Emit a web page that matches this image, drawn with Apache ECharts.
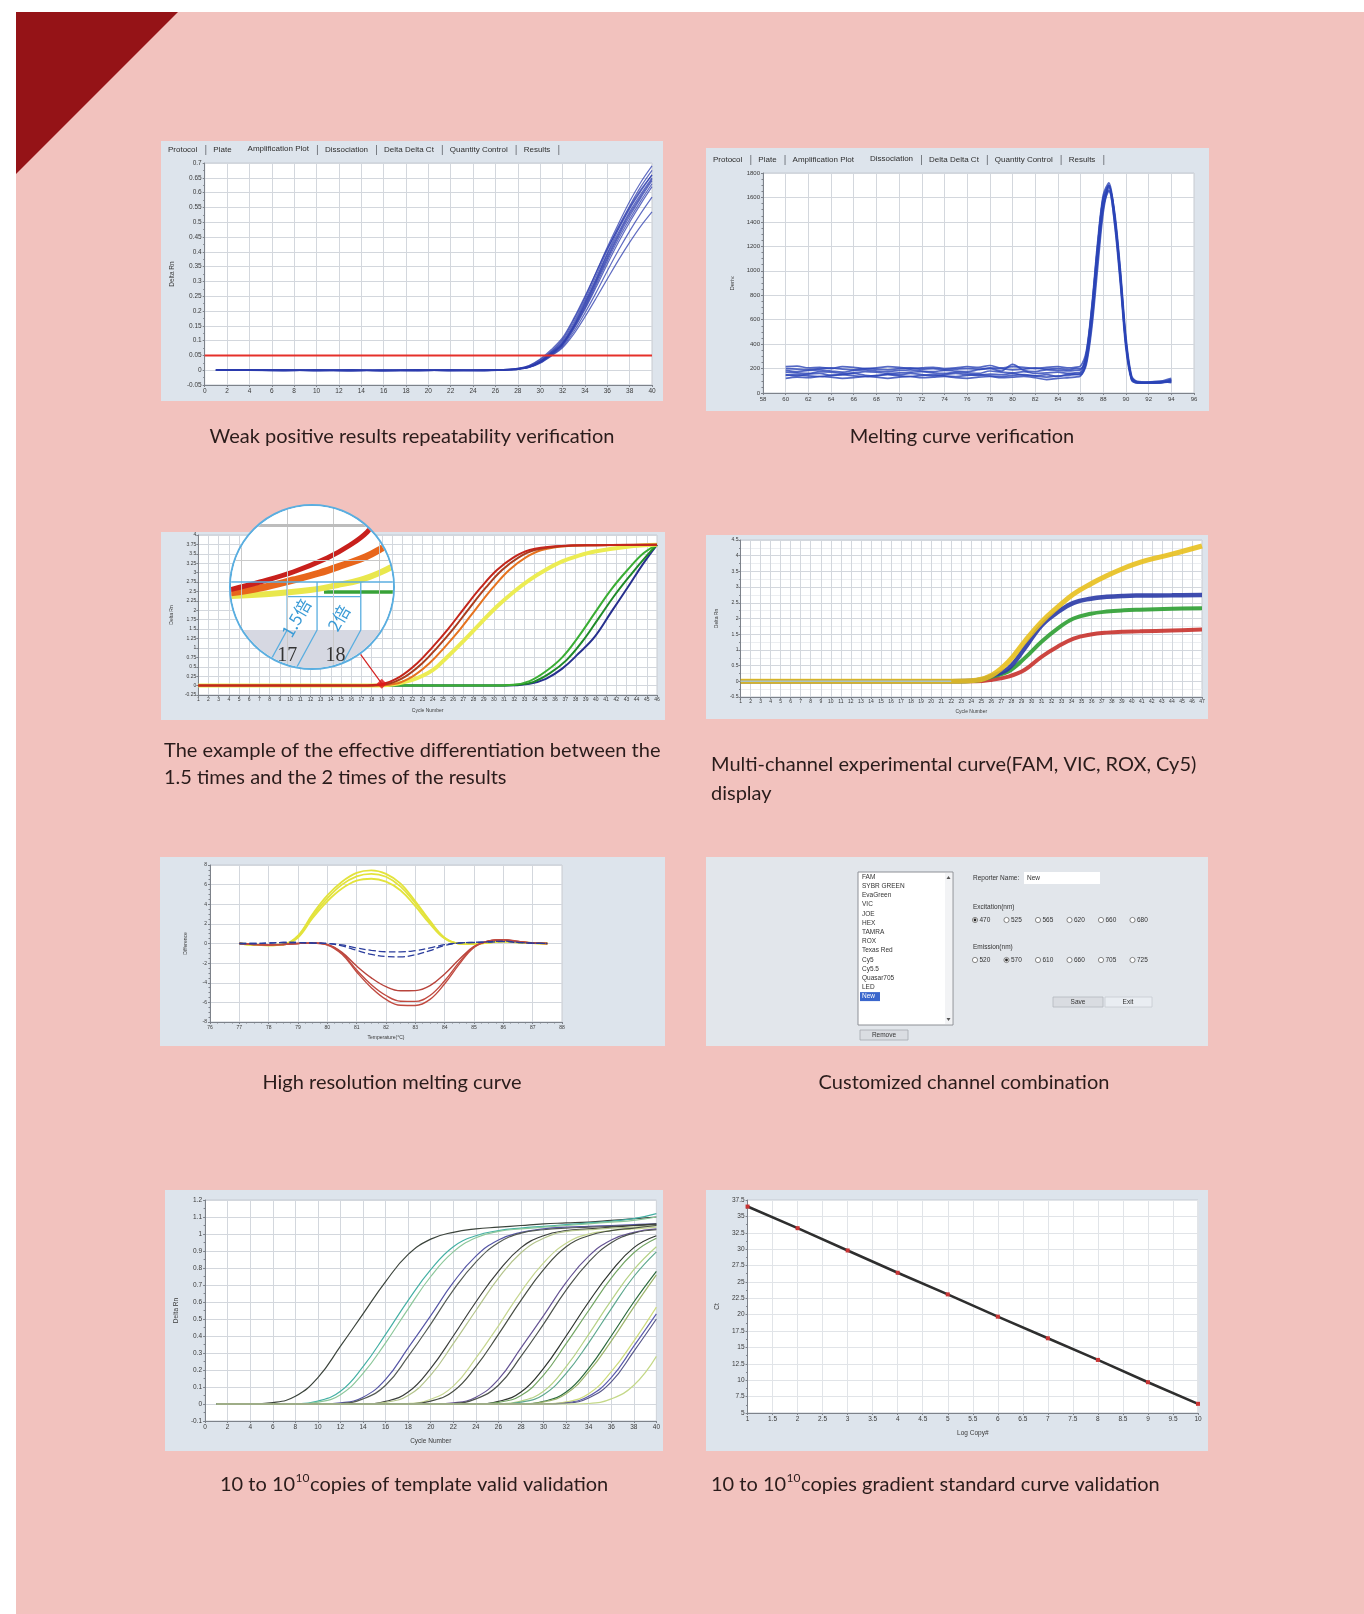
<!DOCTYPE html>
<html>
<head>
<meta charset="utf-8">
<title>qPCR analysis software – result gallery</title>
<script src="https://cdn.jsdelivr.net/npm/echarts@6.0.0/dist/echarts.min.js"></script>
<style>
  html, body { margin: 0; padding: 0; background: #ffffff; }
  #page { position: relative; width: 1364px; height: 1614px; overflow: hidden; }
  .box { position: absolute; }
  #magRing { position: absolute; border-radius: 50%; overflow: hidden; box-sizing: border-box; border: 2px solid #5aaee0; background: #ffffff; }
  #mag { width: 100%; height: 100%; }
</style>
</head>
<body>
<div id="page">
  <div id="bg" class="box" style="left:0;top:0;width:1364px;height:1614px"></div>
  <div id="p1" class="box" style="left:161px;top:141px;width:502px;height:260px"></div>
  <div id="p2" class="box" style="left:706px;top:148px;width:503px;height:263px"></div>
  <div id="p3" class="box" style="left:161px;top:532px;width:504px;height:188px"></div>
  <div id="p4" class="box" style="left:706px;top:535px;width:502px;height:184px"></div>
  <div id="p5" class="box" style="left:160px;top:857px;width:505px;height:189px"></div>
  <div id="p6" class="box" style="left:706px;top:857px;width:502px;height:189px"></div>
  <div id="p7" class="box" style="left:165px;top:1190px;width:498px;height:261px"></div>
  <div id="p8" class="box" style="left:706px;top:1190px;width:502px;height:261px"></div>
  <div id="magRing" style="left:229px;top:504px;width:166px;height:166px"><div id="mag"></div></div>
</div>
<script>
// ================= data =================

// software tab strip
const tabNames = ['Protocol', 'Plate', 'Amplification Plot', 'Dissociation', 'Delta Delta Ct', 'Quantity Control', 'Results'];

// captions
const capWeak = 'Weak positive results repeatability verification';
const capMelt = 'Melting curve verification';
const capDiff = ['The example of the effective differentiation between the', '1.5 times and the 2 times of the results'];
const capMulti = ['Multi-channel experimental curve(FAM, VIC, ROX, Cy5)', 'display'];
const capHrm = 'High resolution melting curve';
const capCustom = 'Customized channel combination';
const capTemplate = ['10 to 10', '10', 'copies of template valid validation'];
const capStandard = ['10 to 10', '10', 'copies gradient standard curve validation'];

// --- weak positive amplification (Delta Rn per cycle) ---
const ampCycles = [1, 4, 7, 10, 13, 16, 19, 22, 25, 27, 28, 29, 30, 31, 32, 33, 34, 35, 36, 37, 38, 39, 40];
const ampThreshold = 0.05;
const ampRun01 = [0.001, 0.002, -0.001, 0.001, -0.002, 0.001, 0, -0.001, 0.001, 0.003, 0.006, 0.015, 0.035, 0.065, 0.105, 0.17, 0.245, 0.33, 0.415, 0.495, 0.57, 0.635, 0.69];
const ampRun02 = [0, -0.001, 0.001, -0.002, 0.001, -0.001, 0.001, 0, -0.002, 0.002, 0.005, 0.013, 0.032, 0.062, 0.1, 0.162, 0.237, 0.32, 0.405, 0.485, 0.555, 0.62, 0.675];
const ampRun03 = [0.001, 0, -0.002, 0, 0.001, -0.002, -0.001, 0.001, 0, 0.002, 0.005, 0.012, 0.03, 0.06, 0.095, 0.155, 0.23, 0.31, 0.395, 0.475, 0.545, 0.605, 0.66];
const ampRun04 = [-0.001, 0.001, 0, -0.001, -0.002, 0, 0.001, -0.002, -0.001, 0.002, 0.004, 0.012, 0.03, 0.058, 0.092, 0.15, 0.225, 0.305, 0.39, 0.465, 0.535, 0.595, 0.65];
const ampRun05 = [0, 0.001, -0.001, 0.001, 0, -0.001, -0.002, 0, 0.001, 0.001, 0.004, 0.011, 0.028, 0.056, 0.09, 0.148, 0.22, 0.3, 0.382, 0.458, 0.528, 0.588, 0.645];
const ampRun06 = [0.001, -0.001, 0.001, -0.002, -0.001, 0.001, 0, -0.001, -0.002, 0.001, 0.004, 0.011, 0.028, 0.055, 0.088, 0.145, 0.215, 0.295, 0.376, 0.452, 0.52, 0.582, 0.64];
const ampRun07 = [-0.001, 0, 0.001, 0, -0.002, -0.001, 0.001, 0, -0.001, 0.002, 0.004, 0.01, 0.027, 0.054, 0.086, 0.142, 0.21, 0.288, 0.368, 0.443, 0.51, 0.572, 0.63];
const ampRun08 = [0, 0.001, 0, -0.001, 0.001, -0.002, -0.001, 0.001, 0, 0.001, 0.003, 0.01, 0.026, 0.052, 0.084, 0.138, 0.205, 0.28, 0.358, 0.432, 0.5, 0.562, 0.62];
const ampRun09 = [0.001, -0.001, -0.002, 0.001, 0, -0.001, 0.001, -0.002, 0, 0.001, 0.003, 0.009, 0.025, 0.05, 0.08, 0.13, 0.193, 0.262, 0.335, 0.405, 0.47, 0.53, 0.585];
const ampRun10 = [0, 0, 0.001, -0.001, -0.001, 0, -0.002, 0.001, -0.001, 0.001, 0.003, 0.009, 0.024, 0.048, 0.076, 0.122, 0.18, 0.243, 0.308, 0.372, 0.432, 0.487, 0.535];
const ampRun11 = [0.001, 0.001, -0.001, 0, 0, -0.002, 0, -0.001, 0.001, 0.003, 0.006, 0.016, 0.038, 0.07, 0.11, 0.175, 0.25, 0.33, 0.41, 0.48, 0.55, 0.61, 0.66];
const ampRuns = [ampRun01, ampRun02, ampRun03, ampRun04, ampRun05, ampRun06, ampRun07, ampRun08, ampRun09, ampRun10, ampRun11];

// --- melting curve (-dF/dT per temperature) ---
const meltTemps = [60, 61, 62, 63, 64, 65, 66, 67, 68, 69, 70, 71, 72, 73, 74, 75, 76, 77, 78, 79, 80, 81, 82, 83, 84, 85,
  85.5, 86, 86.5, 87, 87.5, 88, 88.5, 89, 89.5, 90, 90.5, 91, 92, 93, 94];
const meltRun1 = [215, 220, 205, 210, 200, 215, 210, 200, 205, 215, 210, 200, 205, 210, 200, 205, 215, 210, 225, 205, 215, 210, 200, 210, 215, 205, 210, 220, 340, 720, 1230, 1620, 1720, 1460, 980, 420, 120, 85, 80, 85, 100];
const meltRun2 = [185, 175, 185, 190, 180, 170, 185, 190, 180, 175, 185, 190, 180, 175, 185, 180, 175, 190, 200, 180, 235, 185, 175, 190, 185, 180, 185, 190, 290, 640, 1140, 1550, 1700, 1430, 950, 390, 110, 80, 85, 90, 95];
const meltRun3 = [150, 140, 155, 160, 145, 150, 160, 145, 140, 155, 150, 160, 150, 140, 150, 160, 150, 145, 155, 150, 160, 145, 140, 150, 135, 155, 155, 160, 250, 580, 1080, 1510, 1690, 1450, 990, 430, 130, 90, 85, 80, 110];
const meltRun4 = [120, 130, 125, 135, 130, 120, 125, 135, 130, 120, 130, 135, 125, 130, 135, 125, 120, 130, 135, 125, 130, 135, 125, 110, 120, 125, 130, 140, 230, 540, 1020, 1480, 1680, 1480, 1020, 460, 140, 95, 90, 95, 85];
const meltRun5 = [170, 165, 160, 175, 170, 160, 165, 175, 170, 160, 165, 170, 175, 165, 160, 170, 165, 160, 180, 170, 165, 175, 160, 165, 170, 160, 165, 170, 310, 690, 1190, 1590, 1660, 1380, 900, 360, 105, 85, 90, 95, 120];
const meltRun6 = [145, 150, 140, 135, 145, 150, 140, 135, 145, 150, 140, 135, 145, 150, 140, 135, 145, 150, 140, 135, 145, 150, 140, 130, 140, 145, 150, 150, 260, 610, 1110, 1530, 1650, 1400, 930, 400, 120, 90, 85, 85, 90];
const meltRun7 = [200, 195, 190, 200, 205, 195, 190, 200, 195, 190, 200, 205, 195, 200, 190, 195, 200, 195, 205, 200, 190, 195, 205, 195, 200, 190, 200, 200, 320, 700, 1200, 1600, 1700, 1440, 960, 410, 115, 88, 82, 92, 105];
const meltRuns = [meltRun1, meltRun2, meltRun3, meltRun4, meltRun5, meltRun6, meltRun7];

// --- 1.5x / 2x differentiation (cycle, Delta Rn) ---
const diffRed = [[1, 0], [17, 0], [19, 0.04], [20.8, 0.24], [22.5, 0.6], [24, 1.03], [25.5, 1.5], [27.1, 2.06], [28.7, 2.6], [30.3, 3.07], [31.9, 3.4], [33.5, 3.6], [36, 3.7], [40, 3.73], [46, 3.74]];
const diffBrown = [[1, 0], [17.5, 0], [19.5, 0.04], [21.3, 0.24], [23, 0.6], [24.5, 1.03], [26, 1.5], [27.6, 2.06], [29.2, 2.6], [30.8, 3.07], [32.4, 3.4], [34, 3.6], [36.5, 3.7], [40, 3.73], [46, 3.74]];
const diffOrange = [[1, 0], [18, 0], [20.2, 0.04], [22, 0.24], [23.7, 0.6], [25.2, 1.03], [26.7, 1.5], [28.3, 2.06], [29.9, 2.6], [31.5, 3.07], [33.1, 3.4], [34.7, 3.6], [37, 3.7], [41, 3.73], [46, 3.74]];
const diffYellow = [[1, 0], [18, 0], [20, 0.03], [22, 0.15], [24, 0.41], [25.5, 0.78], [27.1, 1.21], [28.7, 1.66], [30.3, 2.1], [31.9, 2.48], [33.5, 2.81], [35.1, 3.08], [36.7, 3.3], [38.3, 3.45], [39.9, 3.56], [43.1, 3.69], [46, 3.74]];
const diffGreen = [[1, 0], [30, 0], [31.9, 0.02], [33.5, 0.12], [35.1, 0.38], [36.7, 0.75], [38.3, 1.3], [39.9, 1.93], [41.5, 2.55], [43.1, 3.07], [44.7, 3.52], [46, 3.74]];
const diffGreen2 = [[1, 0], [30.5, 0], [32.3, 0.02], [33.9, 0.1], [35.5, 0.33], [37.1, 0.67], [38.7, 1.18], [40.3, 1.8], [41.9, 2.42], [43.5, 2.97], [45, 3.45], [46, 3.74]];
const diffBlue = [[1, 0], [31, 0], [33.5, 0.05], [35.1, 0.18], [36.7, 0.45], [38.3, 0.85], [39.9, 1.3], [41.5, 1.95], [43.1, 2.6], [44.7, 3.26], [46, 3.74]];
const diffCtPoint = [19, 0.05];
// magnified view around cycles 16–19
const magRed = [[15.74, 0], [16.41, 0.08], [17.13, 0.18], [17.87, 0.32], [18.37, 0.45], [18.74, 0.58], [19.02, 0.75], [19.24, 0.9]];
const magOrange = [[15.74, -0.03], [16.41, 0.02], [17.13, 0.1], [17.7, 0.17], [18.22, 0.25], [18.7, 0.33], [19.07, 0.42], [19.35, 0.5]];
const magYellow = [[15.74, -0.06], [16.6, -0.04], [17.5, 0], [18.1, 0.05], [18.59, 0.1], [19, 0.17], [19.35, 0.25]];
const magGreen = [[17.8, -0.02], [19.35, -0.02]];
const magThreshold = 0.08;
const magLabels = ['1.5倍', '2倍', '17', '18'];

// --- multi-channel (cycle, Delta Rn) ---
const mcCycles = [1, 8, 16, 22, 24.5, 26.1, 27.7, 29.3, 31, 32.6, 34.2, 35.9, 37.5, 39.2, 40.8, 44, 47];
const mcFAMyellow = [0, 0, 0, 0, 0.03, 0.2, 0.62, 1.26, 1.89, 2.36, 2.78, 3.1, 3.36, 3.6, 3.79, 4.05, 4.31];
const mcVICblue = [0, 0, 0, 0, 0.03, 0.18, 0.41, 1.04, 1.78, 2.2, 2.5, 2.63, 2.69, 2.72, 2.73, 2.74, 2.75];
const mcROXgreen = [0, 0, 0, 0, 0.02, 0.15, 0.31, 0.73, 1.26, 1.68, 2.0, 2.15, 2.22, 2.26, 2.28, 2.31, 2.33];
const mcCy5red = [0, 0, 0, 0, 0, 0.05, 0.15, 0.36, 0.78, 1.1, 1.36, 1.49, 1.55, 1.58, 1.59, 1.62, 1.65];
const mcEarly = [[1, 0], [8, 0], [16, 0], [22, 0]];

// --- high resolution melting difference plot ---
const hrmTemps = [77, 77.5, 78, 78.5, 79, 79.5, 80, 80.5, 81, 81.5, 82, 82.5, 83, 83.5, 84, 84.5, 85, 85.5, 86, 86.5, 87, 87.5];
const hrmYellow1 = [0, -0.15, -0.2, -0.1, 0.8, 3.0, 4.9, 6.3, 7.2, 7.45, 7.1, 6.1, 4.3, 2.3, 0.6, 0, -0.05, 0.1, 0.25, 0.15, 0.05, 0];
const hrmYellow2 = [0, -0.15, -0.2, -0.1, 0.7, 2.8, 4.6, 6.0, 6.85, 7.1, 6.8, 5.8, 4.1, 2.2, 0.55, 0, -0.05, 0.1, 0.22, 0.12, 0.04, 0];
const hrmYellow3 = [0, -0.1, -0.15, -0.1, 0.6, 2.6, 4.3, 5.6, 6.4, 6.6, 6.3, 5.4, 3.8, 2.0, 0.5, 0, -0.05, 0.08, 0.2, 0.1, 0.03, 0];
const hrmBlue1 = [0, 0, 0.05, 0.1, 0.1, 0.05, 0, -0.15, -0.45, -0.7, -0.84, -0.85, -0.72, -0.45, -0.12, 0.05, 0.1, 0.15, 0.2, 0.1, 0.03, 0];
const hrmBlue2 = [0, 0, 0.05, 0.1, 0.1, 0.05, 0, -0.25, -0.7, -1.1, -1.33, -1.36, -1.15, -0.72, -0.2, 0.05, 0.12, 0.18, 0.25, 0.12, 0.04, 0];
const hrmRed1 = [0, -0.1, -0.15, -0.1, 0, 0.05, -0.1, -0.9, -2.3, -3.5, -4.4, -4.82, -4.8, -4.3, -3.1, -1.6, -0.3, 0.25, 0.35, 0.2, 0.05, 0];
const hrmRed2 = [0, -0.1, -0.15, -0.1, 0, 0.05, -0.12, -1.0, -2.7, -4.2, -5.3, -5.88, -5.9, -5.3, -3.8, -1.9, -0.35, 0.25, 0.38, 0.2, 0.05, 0];
const hrmRed3 = [0, -0.1, -0.15, -0.1, 0, 0.05, -0.15, -1.1, -2.9, -4.5, -5.7, -6.3, -6.32, -5.7, -4.1, -2.1, -0.4, 0.25, 0.4, 0.22, 0.05, 0];

// --- customized channel dialog ---
const dyeList = ['FAM', 'SYBR GREEN', 'EvaGreen', 'VIC', 'JOE', 'HEX', 'TAMRA', 'ROX', 'Texas Red', 'Cy5', 'Cy5.5', 'Quasar705', 'LED', 'New'];
const excitationNm = ['470', '525', '565', '620', '660', '680'];
const emissionNm = ['520', '570', '610', '660', '705', '725'];

// --- 10 to 10^10 copies template dilution (Delta Rn per cycle) ---
const tplCycles = [1, 2, 4, 6, 8, 10, 12, 14, 16, 18, 20, 22, 24, 26, 28, 30, 32, 34, 36, 38, 40];
const tpl01 = [0, 0, 0, 0.008, 0.045, 0.155, 0.34, 0.53, 0.72, 0.88, 0.97, 1.01, 1.03, 1.04, 1.05, 1.06, 1.065, 1.07, 1.08, 1.09, 1.1];
const tpl02 = [0, 0, 0, 0, 0.001, 0.017, 0.075, 0.22, 0.41, 0.61, 0.79, 0.925, 0.99, 1.02, 1.035, 1.045, 1.055, 1.065, 1.075, 1.09, 1.12];
const tpl03 = [0, 0, 0, 0, 0, 0.011, 0.055, 0.18, 0.36, 0.56, 0.75, 0.895, 0.978, 1.015, 1.03, 1.04, 1.05, 1.06, 1.07, 1.08, 1.1];
const tpl04 = [0, 0, 0, 0, 0, 0, 0.007, 0.04, 0.145, 0.33, 0.52, 0.715, 0.87, 0.965, 1.01, 1.03, 1.04, 1.045, 1.05, 1.055, 1.06];
const tpl05 = [0, 0, 0, 0, 0, 0, 0.003, 0.03, 0.11, 0.28, 0.47, 0.67, 0.835, 0.948, 1.005, 1.025, 1.035, 1.04, 1.045, 1.05, 1.055];
const tpl06 = [0, 0, 0, 0, 0, 0, 0, 0, 0.015, 0.07, 0.21, 0.4, 0.6, 0.78, 0.92, 0.99, 1.02, 1.03, 1.04, 1.05, 1.06];
const tpl07 = [0, 0, 0, 0, 0, 0, 0, 0, 0.01, 0.05, 0.17, 0.355, 0.55, 0.74, 0.89, 0.975, 1.015, 1.025, 1.035, 1.04, 1.05];
const tpl08 = [0, 0, 0, 0, 0, 0, 0, 0, 0, 0.003, 0.028, 0.105, 0.27, 0.46, 0.66, 0.83, 0.945, 1.0, 1.02, 1.03, 1.04];
const tpl09 = [0, 0, 0, 0, 0, 0, 0, 0, 0, 0.001, 0.017, 0.075, 0.22, 0.41, 0.61, 0.79, 0.925, 0.99, 1.02, 1.035, 1.05];
const tpl10 = [0, 0, 0, 0, 0, 0, 0, 0, 0, 0, 0, 0.007, 0.04, 0.145, 0.33, 0.52, 0.715, 0.87, 0.965, 1.01, 1.03];
const tpl11 = [0, 0, 0, 0, 0, 0, 0, 0, 0, 0, 0, 0.003, 0.03, 0.11, 0.28, 0.47, 0.67, 0.835, 0.948, 1.005, 1.025];
const tpl12 = [0, 0, 0, 0, 0, 0, 0, 0, 0, 0, 0, 0, 0, 0.015, 0.07, 0.21, 0.4, 0.6, 0.78, 0.92, 0.99];
const tpl13 = [0, 0, 0, 0, 0, 0, 0, 0, 0, 0, 0, 0, 0, 0.01, 0.05, 0.17, 0.355, 0.55, 0.74, 0.89, 0.975];
const tpl14 = [0, 0, 0, 0, 0, 0, 0, 0, 0, 0, 0, 0, 0, 0.001, 0.017, 0.075, 0.22, 0.41, 0.61, 0.79, 0.925];
const tpl15 = [0, 0, 0, 0, 0, 0, 0, 0, 0, 0, 0, 0, 0, 0, 0.011, 0.055, 0.18, 0.36, 0.56, 0.75, 0.895];
const tpl16 = [0, 0, 0, 0, 0, 0, 0, 0, 0, 0, 0, 0, 0, 0, 0, 0.015, 0.07, 0.21, 0.4, 0.6, 0.78];
const tpl17 = [0, 0, 0, 0, 0, 0, 0, 0, 0, 0, 0, 0, 0, 0, 0, 0.012, 0.06, 0.19, 0.37, 0.57, 0.76];
const tpl18 = [0, 0, 0, 0, 0, 0, 0, 0, 0, 0, 0, 0, 0, 0, 0, 0, 0.008, 0.045, 0.155, 0.34, 0.53];
const tpl19 = [0, 0, 0, 0, 0, 0, 0, 0, 0, 0, 0, 0, 0, 0, 0, 0, 0.012, 0.06, 0.19, 0.37, 0.57];
const tpl20 = [0, 0, 0, 0, 0, 0, 0, 0, 0, 0, 0, 0, 0, 0, 0, 0, 0.005, 0.035, 0.13, 0.31, 0.5];
const tpl21 = [0, 0, 0, 0, 0, 0, 0, 0, 0, 0, 0, 0, 0, 0, 0, 0, 0, 0.003, 0.03, 0.11, 0.28];
const tplRuns = [tpl01, tpl02, tpl03, tpl04, tpl05, tpl06, tpl07, tpl08, tpl09, tpl10, tpl11, tpl12, tpl13, tpl14, tpl15, tpl16, tpl17, tpl18, tpl19, tpl20, tpl21];

// --- standard curve (log copies vs Ct) ---
const stdLogCopy = [1, 2, 3, 4, 5, 6, 7, 8, 9, 10];
const stdCt = [36.5, 33.2, 29.8, 26.4, 23.1, 19.7, 16.4, 13.1, 9.7, 6.4];

// ================= styling =================
const UI = '"Liberation Sans", Arial, sans-serif';
const CAP_FAMILY = '"Lato", "Open Sans", sans-serif';
const CAP_COLOR = '#2a1c1b';
const PAGE_PINK = '#f2c2be';
const CORNER_RED = '#951317';
const PANEL_BG = '#dde4ec';
const GRID_LINE = '#d3d7dd';
const tplColors = ['#3c443c', '#44b0a4', '#8cc79a', '#5656a6', '#555b55', '#3a3d3a', '#b4c48c', '#c6d690', '#484e44', '#665494', '#4c524c',
  '#2e342e', '#74a664', '#b6d286', '#5ea88e', '#2c6a3e', '#9cb46c', '#5c5cae', '#cedc7c', '#58588a', '#c4d888'];

const ctx2d = document.createElement('canvas').getContext('2d');
function measure(txt, font) { ctx2d.font = font; return ctx2d.measureText(txt).width; }
function pairs(xs, ys) { return ys.map((y, i) => [xs[i], y]); }
function plainNum(v) { return String(Math.round(v * 1000) / 1000); }

function ax(fs, o) {
  const base = {
    type: 'value',
    axisLine: { show: true, onZero: false, lineStyle: { color: '#7d828a', width: 1 } },
    axisTick: { show: true, length: 2, lineStyle: { color: '#7d828a' } },
    axisLabel: { fontSize: fs, color: '#3a3a3a', fontFamily: UI, margin: 3, formatter: plainNum },
    splitLine: { show: true, lineStyle: { color: GRID_LINE, width: 1 } },
    nameLocation: 'middle',
    nameTextStyle: { fontSize: fs, color: '#3a3a3a', fontFamily: UI }
  };
  const out = Object.assign({}, base, o);
  ['axisLabel', 'axisTick', 'splitLine', 'axisLine'].forEach(k => { if (o && o[k]) out[k] = Object.assign({}, base[k], o[k]); });
  return out;
}
function plotGrid(l, r, t, b) {
  return { left: l, right: r, top: t, bottom: b, show: true, backgroundColor: '#ffffff', borderColor: '#c4cad2', borderWidth: 1 };
}
function ln(data, color, width, opt) {
  opt = opt || {};
  return {
    type: 'line', data: data, symbol: 'none', silent: true,
    smooth: opt.smooth === undefined ? 0.4 : opt.smooth,
    lineStyle: { color: color, width: width, opacity: opt.opacity == null ? 1 : opt.opacity, type: opt.type || 'solid' },
    z: opt.z || 2
  };
}
function tabBar(names, x0, y, sel) {
  const els = [];
  const font = '8px ' + UI;
  let x = x0;
  names.forEach((n, i) => {
    els.push({ type: 'text', x: x, y: i === sel ? y - 1.5 : y, silent: true,
      style: { text: n, font: font, fill: '#2e2e2e', textVerticalAlign: 'middle' } });
    x += measure(n, font) + 8;
    if (i !== sel - 1) {
      els.push({ type: 'rect', silent: true, shape: { x: x, y: y - 5, width: 0.9, height: 10 }, style: { fill: '#6d7178' } });
    }
    x += 8;
  });
  return els;
}
function init(id) { return echarts.init(document.getElementById(id), null, { renderer: 'canvas' }); }

// ================= page background and captions =================
// caption size chosen so the first caption spans its column width
const CAP_SIZE = Math.round(18 * 404 / measure(capWeak, '18px ' + CAP_FAMILY) * 10) / 10;
const capFont = CAP_SIZE + 'px ' + CAP_FAMILY;
const supFont = Math.round(CAP_SIZE * 0.6) + 'px ' + CAP_FAMILY;
function cap(text, x, y, align) {
  return { type: 'text', x: x, y: y, silent: true,
    style: { text: text, font: capFont, fill: CAP_COLOR, textAlign: align || 'center', textVerticalAlign: 'middle' } };
}
function capWithPower(parts, x, y) {
  const w0 = measure(parts[0], capFont);
  const w1 = measure(parts[1], supFont);
  return [
    cap(parts[0], x, y, 'left'),
    { type: 'text', x: x + w0 + 0.5, y: y - 7, silent: true,
      style: { text: parts[1], font: supFont, fill: CAP_COLOR, textAlign: 'left', textVerticalAlign: 'middle' } },
    cap(parts[2], x + w0 + w1 + 1, y, 'left')
  ];
}
const bg = init('bg');
bg.setOption({
  animation: false,
  graphic: [
    { type: 'rect', silent: true, shape: { x: 0, y: 0, width: 1364, height: 1614 }, style: { fill: '#ffffff' } },
    { type: 'rect', silent: true, shape: { x: 16, y: 12, width: 1348, height: 1602 }, style: { fill: PAGE_PINK } },
    { type: 'polygon', silent: true, shape: { points: [[16, 12], [178, 12], [16, 174]] }, style: { fill: CORNER_RED } },
    cap(capWeak, 412, 437),
    cap(capMelt, 962, 437),
    cap(capDiff[0], 164, 751, 'left'),
    cap(capDiff[1], 164, 778, 'left'),
    cap(capMulti[0], 711, 765, 'left'),
    cap(capMulti[1], 711, 794, 'left'),
    cap(capHrm, 392, 1083),
    cap(capCustom, 964, 1083)
  ].concat(capWithPower(capTemplate, 220, 1485), capWithPower(capStandard, 711, 1485))
});

// ================= 1: weak positive amplification =================
const p1 = init('p1');
p1.setOption({
  animation: false,
  backgroundColor: PANEL_BG,
  grid: plotGrid(42, 11, 22, 16),
  xAxis: ax(6.5, { min: 0, max: 40, interval: 2 }),
  yAxis: ax(6.5, { min: -0.05, max: 0.7, interval: 0.05, name: 'Delta Rn', nameGap: 26,
    minorTick: { show: true, splitNumber: 2, length: 1.5 } }),
  series: ampRuns.map(r => ln(pairs(ampCycles, r), '#2c3cae', 1.2, { opacity: 0.75, smooth: 0.3 }))
    .concat([ln([[0, ampThreshold], [40, ampThreshold]], '#e5302a', 2, { smooth: false, z: 5 })]),
  graphic: tabBar(tabNames, 7, 9, 2)
});

// ================= 2: melting curve =================
const p2 = init('p2');
p2.setOption({
  animation: false,
  backgroundColor: PANEL_BG,
  grid: plotGrid(57, 15, 25, 18),
  xAxis: ax(6, { min: 58, max: 96, interval: 2 }),
  yAxis: ax(6, { min: 0, max: 1800, interval: 200, name: 'Deriv.', nameGap: 28,
    minorTick: { show: true, splitNumber: 4, length: 1.5 } }),
  series: meltRuns.map(r => ln(pairs(meltTemps, r), '#2b43b6', 1.7, { opacity: 0.8, smooth: 0.3 })),
  graphic: tabBar(tabNames, 7, 12, 3)
});

// ================= 3: 1.5x / 2x differentiation =================
const p3 = init('p3');
p3.setOption({
  animation: false,
  backgroundColor: PANEL_BG,
  grid: plotGrid(26, 8, 3, 25),
  xAxis: ax(5, { min: 1, max: 46, interval: 1, name: 'Cycle Number', nameGap: 13, axisLabel: { interval: 0, margin: 2 } }),
  yAxis: ax(5, { min: -0.25, max: 4, interval: 0.25, name: 'Delta Rn', nameGap: 15, axisLabel: { margin: 2 } }),
  series: [
    ln(diffBlue, '#27308e', 2),
    ln(diffGreen2, '#1f8a28', 2),
    ln(diffGreen, '#3aae34', 2),
    ln(diffYellow, '#ecec52', 4),
    ln(diffOrange, '#e6721e', 2),
    ln(diffBrown, '#aa3e1e', 2),
    ln(diffRed, '#c4261c', 2),
    { type: 'scatter', data: [diffCtPoint], symbol: 'diamond', symbolSize: 10, silent: true,
      itemStyle: { color: '#e41818' }, z: 6 }
  ]
});
// pointer from the magnifier to the Ct point
(function () {
  const magCx = 312, magCy = 587, magR = 83;           // magnifier circle, page coords
  const panelX = 161, panelY = 532;
  const pt = p3.convertToPixel({ gridIndex: 0 }, diffCtPoint);
  const dx = pt[0] + panelX - magCx, dy = pt[1] + panelY - magCy;
  const len = Math.sqrt(dx * dx + dy * dy);
  const ex = magCx + dx / len * magR - panelX, ey = magCy + dy / len * magR - panelY;
  p3.setOption({ graphic: [{ type: 'line', silent: true, z: 10,
    shape: { x1: ex, y1: ey, x2: pt[0], y2: pt[1] }, style: { stroke: '#d42020', lineWidth: 1.2 } }] });
})();

// magnified region
const mag = init('mag');
mag.setOption({
  animation: false,
  backgroundColor: '#ffffff',
  grid: { left: 0, right: 0, top: 0, bottom: 0 },
  xAxis: { type: 'value', min: 15.78, max: 19.3, show: false, splitLine: { show: false } },
  yAxis: { type: 'value', min: -0.78, max: 0.84, show: false, splitLine: { show: false } },
  series: [
    { type: 'line', data: [], silent: true, z: 0,
      markArea: { silent: true, itemStyle: { color: '#d6d8e2' }, data: [[{ yAxis: -0.78 }, { yAxis: -0.4 }]] },
      markLine: { silent: true, symbol: 'none', label: { show: false },
        lineStyle: { color: '#c9c9c9', width: 1, type: 'solid' },
        data: [{ xAxis: 16 }, { xAxis: 17 }, { xAxis: 18 }, { xAxis: 19 }, { yAxis: 0.3 },
          { yAxis: 0.65, lineStyle: { color: '#bdbdbd', width: 3, type: 'solid' } }] } },
    ln(magGreen, '#38a238', 3.5, { smooth: false }),
    ln(magYellow, '#e9e74c', 6),
    ln(magOrange, '#e8661c', 7),
    ln(magRed, '#c8201c', 5),
    { type: 'line', data: [], silent: true, z: 4,
      markLine: { silent: true, symbol: 'none', label: { show: false },
        lineStyle: { color: '#5aaee0', width: 1.5, type: 'solid' }, data: [{ yAxis: magThreshold }] } },
    ln([[17, magThreshold], [17, -0.067], [18.6, -0.067]], '#5aaee0', 1.3, { smooth: false, z: 4 }),
    ln([[17, -0.067], [17, -0.4], [16.55, -0.78]], '#5aaee0', 1.3, { smooth: false, z: 4 }),
    ln([[17.65, magThreshold], [17.65, -0.4], [17.2, -0.78]], '#5aaee0', 1.3, { smooth: false, z: 4 }),
    ln([[18.6, magThreshold], [18.6, -0.4], [18.15, -0.78]], '#5aaee0', 1.3, { smooth: false, z: 4 })
  ]
});
(function () {
  const a = mag.convertToPixel({ gridIndex: 0 }, [17.2, -0.28]);
  const b = mag.convertToPixel({ gridIndex: 0 }, [18.12, -0.28]);
  const c = mag.convertToPixel({ gridIndex: 0 }, [17.0, -0.66]);
  const d = mag.convertToPixel({ gridIndex: 0 }, [18.05, -0.66]);
  const cjk = '"Noto Sans CJK SC", sans-serif';
  mag.setOption({ graphic: [
    { type: 'text', x: a[0], y: a[1], rotation: Math.PI / 3, silent: true, z: 20,
      style: { text: magLabels[0], font: '17px ' + cjk, fill: '#3b9bd6', textAlign: 'center', textVerticalAlign: 'middle' } },
    { type: 'text', x: b[0], y: b[1], rotation: Math.PI / 3, silent: true, z: 20,
      style: { text: magLabels[1], font: '17px ' + cjk, fill: '#3b9bd6', textAlign: 'center', textVerticalAlign: 'middle' } },
    { type: 'text', x: c[0], y: c[1], silent: true, z: 20,
      style: { text: magLabels[2], font: '20px "Liberation Serif", serif', fill: '#333333', textAlign: 'center', textVerticalAlign: 'middle' } },
    { type: 'text', x: d[0], y: d[1], silent: true, z: 20,
      style: { text: magLabels[3], font: '20px "Liberation Serif", serif', fill: '#333333', textAlign: 'center', textVerticalAlign: 'middle' } }
  ] });
})();

// ================= 4: multi-channel =================
const p4 = init('p4');
p4.setOption({
  animation: false,
  backgroundColor: PANEL_BG,
  grid: plotGrid(26, 6, 5, 21),
  xAxis: ax(5, { min: 1, max: 47, interval: 1, name: 'Cycle Number', nameGap: 12, axisLabel: { interval: 0, margin: 2 } }),
  yAxis: ax(5, { min: -0.5, max: 4.5, interval: 0.5, name: 'Delta Rn', nameGap: 15, axisLabel: { margin: 2 },
    minorTick: { show: true, splitNumber: 2, length: 1.5 },
    minorSplitLine: { show: true, lineStyle: { color: '#eceef1' } } }),
  series: [
    ln(pairs(mcCycles, mcCy5red), '#c8322c', 4, { opacity: 0.9 }),
    ln(pairs(mcCycles, mcROXgreen), '#2e9e32', 4, { opacity: 0.9 }),
    ln(pairs(mcCycles, mcVICblue), '#2a3aa6', 4.5, { opacity: 0.9 }),
    ln(pairs(mcCycles, mcFAMyellow), '#e8c01e', 5, { opacity: 0.9 }),
    ln(mcEarly, '#a8c2ca', 1.6, { smooth: false, z: 3 })
  ]
});

// ================= 5: high resolution melting =================
const p5 = init('p5');
p5.setOption({
  animation: false,
  backgroundColor: PANEL_BG,
  grid: plotGrid(50, 103, 8, 24),
  xAxis: ax(5, { min: 76, max: 88, interval: 1, name: 'Temperature(°C)', nameGap: 11,
    minorTick: { show: true, splitNumber: 4, length: 1.5 } }),
  yAxis: ax(5, { min: -8, max: 8, interval: 2, name: 'Difference', nameGap: 22,
    minorTick: { show: true, splitNumber: 4, length: 1.5 } }),
  series: [
    ln(pairs(hrmTemps, hrmYellow1), '#e3e33c', 1.8),
    ln(pairs(hrmTemps, hrmYellow2), '#e3e33c', 1.8),
    ln(pairs(hrmTemps, hrmYellow3), '#e3e33c', 1.8),
    ln(pairs(hrmTemps, hrmRed1), '#b8443c', 1.4),
    ln(pairs(hrmTemps, hrmRed2), '#c04a40', 1.4),
    ln(pairs(hrmTemps, hrmRed3), '#c04a40', 1.4),
    ln(pairs(hrmTemps, hrmBlue1), '#2a3c9c', 1.3, { type: [7, 3] }),
    ln(pairs(hrmTemps, hrmBlue2), '#2a3c9c', 1.3, { type: [7, 3] })
  ]
});

// ================= 6: customized channel dialog =================
(function () {
  const p6 = init('p6');
  const f = '6.5px ' + UI;
  const els = [];
  // dye list box
  els.push({ type: 'rect', shape: { x: 152, y: 15, width: 95, height: 153 }, style: { fill: '#ffffff', stroke: '#8d9096', lineWidth: 1 } });
  els.push({ type: 'rect', shape: { x: 239, y: 16, width: 7, height: 151 }, style: { fill: '#f2f3f5' } });
  els.push({ type: 'polygon', shape: { points: [[240.5, 22], [244.5, 22], [242.5, 19]] }, style: { fill: '#555' } });
  els.push({ type: 'polygon', shape: { points: [[240.5, 161], [244.5, 161], [242.5, 164]] }, style: { fill: '#555' } });
  dyeList.forEach((d, i) => {
    const y = 20 + i * 9.2;
    const selected = i === dyeList.length - 1;
    if (selected) els.push({ type: 'rect', shape: { x: 154, y: y - 4.5, width: 20, height: 9 }, style: { fill: '#3a66cc' } });
    els.push({ type: 'text', x: 156, y: y, style: { text: d, font: f, fill: selected ? '#ffffff' : '#333', textVerticalAlign: 'middle' } });
  });
  // remove button
  els.push({ type: 'rect', shape: { x: 154, y: 173, width: 48, height: 10 }, style: { fill: '#dadde2', stroke: '#a4a8ae', lineWidth: 0.8 } });
  els.push({ type: 'text', x: 178, y: 178, style: { text: 'Remove', font: f, fill: '#333', textAlign: 'center', textVerticalAlign: 'middle' } });
  // reporter name
  els.push({ type: 'text', x: 267, y: 21, style: { text: 'Reporter Name:', font: f, fill: '#333', textVerticalAlign: 'middle' } });
  els.push({ type: 'rect', shape: { x: 318, y: 15, width: 76, height: 12 }, style: { fill: '#ffffff' } });
  els.push({ type: 'text', x: 321, y: 21, style: { text: 'New', font: f, fill: '#333', textVerticalAlign: 'middle' } });
  function radioRow(y, labels, on) {
    labels.forEach((t, i) => {
      const x = 269 + i * 31.5;
      els.push({ type: 'circle', shape: { cx: x, cy: y, r: 2.6 }, style: { fill: '#ffffff', stroke: '#6a6a6a', lineWidth: 0.8 } });
      if (i === on) els.push({ type: 'circle', shape: { cx: x, cy: y, r: 1.4 }, style: { fill: '#222' } });
      els.push({ type: 'text', x: x + 4.5, y: y, style: { text: t, font: f, fill: '#333', textVerticalAlign: 'middle' } });
    });
  }
  els.push({ type: 'text', x: 267, y: 50, style: { text: 'Excitation(nm)', font: f, fill: '#333', textVerticalAlign: 'middle' } });
  radioRow(63, excitationNm, 0);
  els.push({ type: 'text', x: 267, y: 90, style: { text: 'Emission(nm)', font: f, fill: '#333', textVerticalAlign: 'middle' } });
  radioRow(103, emissionNm, 1);
  // save / exit buttons
  els.push({ type: 'rect', shape: { x: 347, y: 140, width: 50, height: 10 }, style: { fill: '#d9dce1', stroke: '#b4b8be', lineWidth: 0.8 } });
  els.push({ type: 'text', x: 372, y: 145, style: { text: 'Save', font: f, fill: '#333', textAlign: 'center', textVerticalAlign: 'middle' } });
  els.push({ type: 'rect', shape: { x: 399, y: 140, width: 47, height: 10 }, style: { fill: '#e9edf2', stroke: '#c6cad0', lineWidth: 0.8 } });
  els.push({ type: 'text', x: 422, y: 145, style: { text: 'Exit', font: f, fill: '#333', textAlign: 'center', textVerticalAlign: 'middle' } });
  els.forEach(e => { e.silent = true; });
  p6.setOption({ animation: false, backgroundColor: '#e2e6eb', graphic: els });
})();

// ================= 7: template dilution series =================
const p7 = init('p7');
p7.setOption({
  animation: false,
  backgroundColor: PANEL_BG,
  grid: plotGrid(35, 6, 10, 30),
  xAxis: ax(6.5, { min: 0, max: 40, interval: 2, name: 'Cycle Number', nameGap: 17 }),
  yAxis: ax(6.5, { min: -0.1, max: 1.2, interval: 0.1, name: 'Delta Rn', nameGap: 24,
    minorTick: { show: true, splitNumber: 2, length: 1.5 } }),
  series: tplRuns.map((r, i) => ln(pairs(tplCycles, r), tplColors[i], 1.2, { smooth: 0.45 }))
});

// ================= 8: standard curve =================
const p8 = init('p8');
p8.setOption({
  animation: false,
  backgroundColor: PANEL_BG,
  grid: plotGrid(39, 10, 10, 38),
  xAxis: ax(6.5, { min: 1, max: 10, interval: 0.5, name: 'Log Copy#', nameGap: 17, splitLine: { lineStyle: { color: '#e1e4e8' } } }),
  yAxis: ax(6.5, { min: 5, max: 37.5, interval: 2.5, name: 'Ct', nameGap: 24, splitLine: { lineStyle: { color: '#e1e4e8' } },
    minorTick: { show: true, splitNumber: 2, length: 1.5 } }),
  series: [{
    type: 'line', data: pairs(stdLogCopy, stdCt), silent: true, smooth: false,
    symbol: 'rect', symbolSize: 4, showSymbol: true,
    lineStyle: { color: '#2e2e2e', width: 2.6 },
    itemStyle: { color: '#c83434' }, z: 3
  }]
});
</script>
</body>
</html>
